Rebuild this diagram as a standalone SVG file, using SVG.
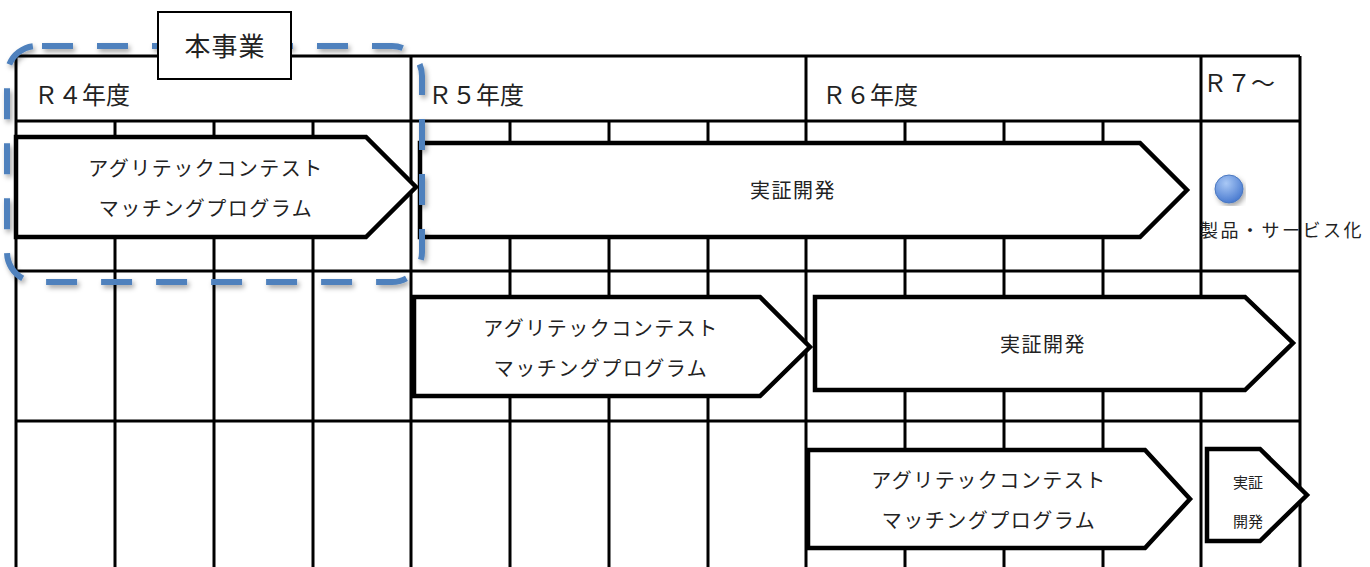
<svg xmlns="http://www.w3.org/2000/svg" width="1370" height="567" viewBox="0 0 1370 567">
<defs>
<style>
.g{stroke:#000;stroke-width:3;fill:none}
.ar{fill:#fff;stroke:#000;stroke-width:4.5;stroke-linejoin:miter}
.t{font-family:"Liberation Serif","Noto Sans CJK JP",serif;fill:#222}
.h{font-size:24px}
.m{font-size:20px;text-anchor:middle;letter-spacing:1.5px}
</style>
<filter id="sh" x="-10%" y="-10%" width="120%" height="120%">
<feDropShadow dx="2" dy="3" stdDeviation="2.5" flood-color="#000" flood-opacity="0.35"/>
</filter>
<radialGradient id="bg" cx="40%" cy="30%" r="70%">
<stop offset="0" stop-color="#a9c8f5"/>
<stop offset="1" stop-color="#4a7bd0"/>
</radialGradient>
</defs>
<rect width="1370" height="567" fill="#fff"/>
<g id="grid">
<path class="g" d="M16 56H1300M16 121H1300M16 271H1300M16 421H1300M16 56V567M411 56V567M806 56V567M1201 56V567M1300 56V567"/>
<path class="g" d="M115 121V567M214 121V567M313 121V567M510 121V567M609 121V567M708 121V567M905 121V567M1004 121V567M1103 121V567"/>
</g>
<g id="headers" class="t h">
<text x="34" y="104">Ｒ４年度</text>
<text x="428" y="104">Ｒ５年度</text>
<text x="822" y="104">Ｒ６年度</text>
<text x="1203" y="92">Ｒ７～</text>
</g>
<g id="connectors"></g>
<g id="n1">
<path class="ar" d="M16 137H366L416 187L366 237H16Z"/>
<text class="t m" x="206" y="176">アグリテックコンテスト</text>
<text class="t m" x="206" y="216">マッチングプログラム</text>
</g>
<g id="n2">
<path class="ar" d="M420 143H1140L1187 190L1140 237H420Z"/>
<text class="t m" x="793" y="198">実証開発</text>
</g>
<g id="n3">
<path class="ar" d="M414 297H760L810 347L760 396H414Z"/>
<text class="t m" x="601" y="336">アグリテックコンテスト</text>
<text class="t m" x="601" y="376">マッチングプログラム</text>
</g>
<g id="n4">
<path class="ar" d="M815 297H1245L1293 343L1245 390H815Z"/>
<text class="t m" x="1043" y="352">実証開発</text>
</g>
<g id="n5">
<path class="ar" d="M808 450H1145L1190 499L1145 548H808Z"/>
<text class="t m" x="989" y="488">アグリテックコンテスト</text>
<text class="t m" x="989" y="528">マッチングプログラム</text>
</g>
<g id="n6">
<path class="ar" d="M1207 449H1260L1307 495L1260 541H1207Z"/>
<text class="t" x="1248" y="488" font-size="15" text-anchor="middle">実証</text>
<text class="t" x="1248" y="527" font-size="15" text-anchor="middle">開発</text>
</g>
<g id="product">
<circle cx="1229" cy="189" r="14" fill="url(#bg)" stroke="#4a78c0" stroke-width="1" filter="url(#sh)"/>
<text class="t" x="1200" y="237" font-size="18" letter-spacing="2.5">製品・サービス化</text>
</g>
<g id="scope">
<rect x="7" y="46" width="415" height="236" rx="30" ry="30" fill="none" stroke="#4f81bd" stroke-width="6" stroke-dasharray="31 24" stroke-dashoffset="50" filter="url(#sh)"/>
<rect x="158" y="12" width="133" height="67" fill="#fff" stroke="#000" stroke-width="2"/>
<text class="t" x="225" y="56" font-size="26" text-anchor="middle" letter-spacing="1">本事業</text>
</g>
</svg>
